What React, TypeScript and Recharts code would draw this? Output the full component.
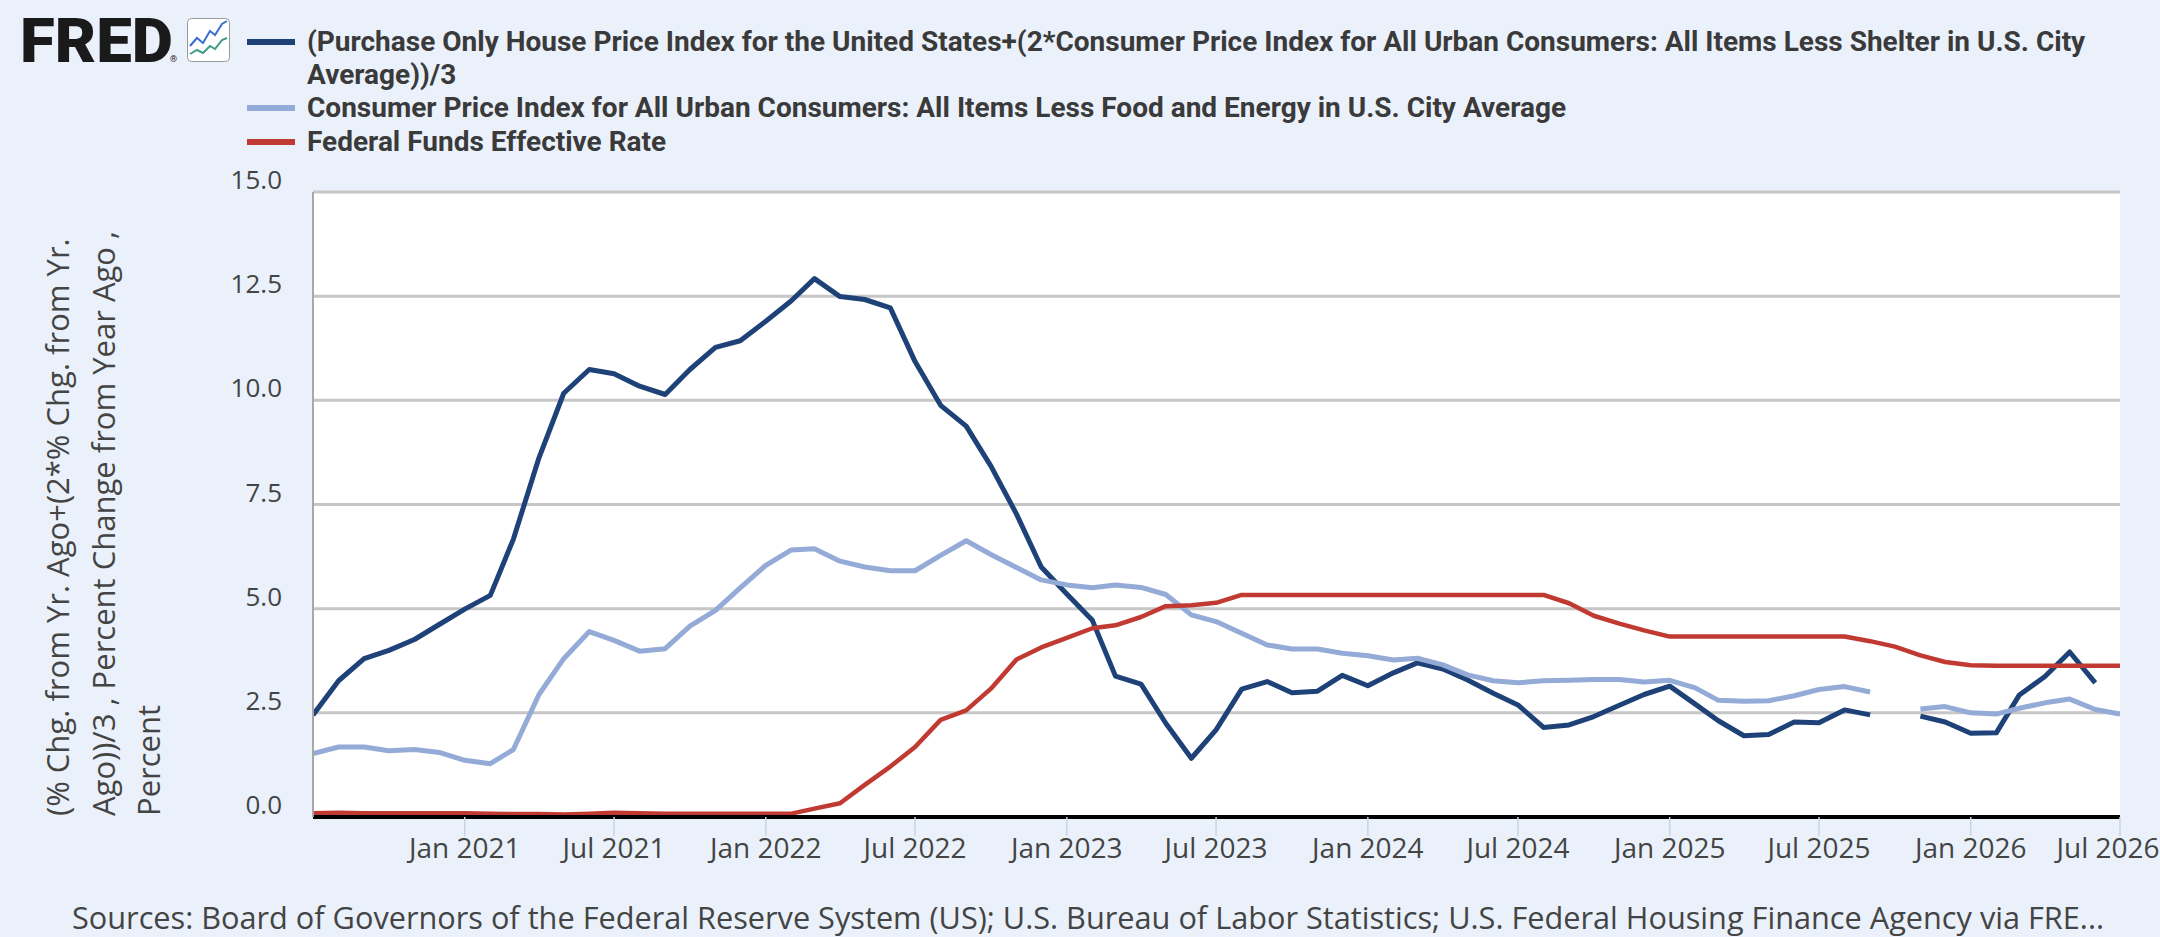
import { LineChart, Line, XAxis, YAxis, CartesianGrid } from 'recharts'

// monthly observations, Jul 2020 .. Jul 2026
const MONTHS = [
  '2020-07', '2020-08', '2020-09', '2020-10', '2020-11', '2020-12',
  '2021-01', '2021-02', '2021-03', '2021-04', '2021-05', '2021-06',
  '2021-07', '2021-08', '2021-09', '2021-10', '2021-11', '2021-12',
  '2022-01', '2022-02', '2022-03', '2022-04', '2022-05', '2022-06',
  '2022-07', '2022-08', '2022-09', '2022-10', '2022-11', '2022-12',
  '2023-01', '2023-02', '2023-03', '2023-04', '2023-05', '2023-06',
  '2023-07', '2023-08', '2023-09', '2023-10', '2023-11', '2023-12',
  '2024-01', '2024-02', '2024-03', '2024-04', '2024-05', '2024-06',
  '2024-07', '2024-08', '2024-09', '2024-10', '2024-11', '2024-12',
  '2025-01', '2025-02', '2025-03', '2025-04', '2025-05', '2025-06',
  '2025-07', '2025-08', '2025-09', '2025-10', '2025-11', '2025-12',
  '2026-01', '2026-02', '2026-03', '2026-04', '2026-05', '2026-06',
  '2026-07',
]

// (HPI yoy + 2 * CPI less shelter yoy) / 3
const HOUSING_MIX = [
  2.45, 3.27, 3.8, 4.0, 4.26, 4.62,
  4.99, 5.32, 6.67, 8.62, 10.17, 10.74,
  10.64, 10.34, 10.14, 10.74, 11.27, 11.43,
  11.9, 12.39, 12.92, 12.49, 12.42, 12.22,
  10.93, 9.88, 9.38, 8.42, 7.27, 6.0,
  5.35, 4.72, 3.38, 3.19, 2.25, 1.41,
  2.09, 3.07, 3.25, 2.98, 3.02, 3.4,
  3.15, 3.46, 3.7, 3.55, 3.29, 2.97,
  2.69, 2.15, 2.21, 2.41, 2.68, 2.94,
  3.14, 2.71, 2.31, 1.95, 1.98, 2.28,
  2.26, 2.57, 2.45, null, 2.42, 2.28,
  2.01, 2.02, 2.93, 3.37, 3.96, 3.22,
  null,
]

// core CPI, percent change from year ago
const CORE_CPI = [
  1.52, 1.68, 1.68, 1.59, 1.62, 1.55,
  1.36, 1.28, 1.62, 2.94, 3.8, 4.45,
  4.24, 3.98, 4.04, 4.58, 4.96, 5.5,
  6.04, 6.41, 6.44, 6.14, 6.0, 5.91,
  5.91, 6.28, 6.63, 6.3, 5.99, 5.69,
  5.57, 5.5, 5.57, 5.51, 5.34, 4.85,
  4.69, 4.41, 4.13, 4.03, 4.03, 3.93,
  3.87, 3.77, 3.81, 3.65, 3.41, 3.27,
  3.22, 3.27, 3.28, 3.3, 3.3, 3.24,
  3.28, 3.1, 2.8, 2.78, 2.79, 2.91,
  3.06, 3.13, 3.0, null, 2.59, 2.65,
  2.5, 2.47, 2.61, 2.74, 2.83, 2.58,
  2.47,
]

// effective fed funds rate, percent
const FED_FUNDS = [
  0.09, 0.1, 0.09, 0.09, 0.09, 0.09,
  0.09, 0.08, 0.07, 0.07, 0.06, 0.08,
  0.1, 0.09, 0.08, 0.08, 0.08, 0.08,
  0.08, 0.08, 0.2, 0.33, 0.77, 1.21,
  1.68, 2.33, 2.56, 3.08, 3.78, 4.07,
  4.3, 4.53, 4.6, 4.8, 5.06, 5.08,
  5.14, 5.33, 5.33, 5.33, 5.33, 5.33,
  5.33, 5.33, 5.33, 5.33, 5.33, 5.33,
  5.33, 5.33, 5.13, 4.83, 4.64, 4.48,
  4.33, 4.33, 4.33, 4.33, 4.33, 4.33,
  4.33, 4.33, 4.22, 4.09, 3.88, 3.72,
  3.64, 3.63, 3.63, 3.63, 3.63, 3.63,
  3.63,
]

const Y_TICKS = [0, 2.5, 5, 7.5, 10, 12.5, 15]
const X_TICKS = [
  '2021-01', '2021-07', '2022-01', '2022-07', '2023-01', '2023-07',
  '2024-01', '2024-07', '2025-01', '2025-07', '2026-01', '2026-07',
]
const MONTH_NAMES = ['Jan', 'Feb', 'Mar', 'Apr', 'May', 'Jun', 'Jul', 'Aug', 'Sep', 'Oct', 'Nov', 'Dec']

const LEGEND_1A =
  '(Purchase Only House Price Index for the United States+(2*Consumer Price Index for All Urban Consumers: All Items Less Shelter in U.S. City'
const LEGEND_1B = 'Average))/3'
const LEGEND_2 = 'Consumer Price Index for All Urban Consumers: All Items Less Food and Energy in U.S. City Average'
const LEGEND_3 = 'Federal Funds Effective Rate'
const Y_TITLE = [
  '(% Chg. from Yr. Ago+(2*% Chg. from Yr.',
  'Ago))/3 , Percent Change from Year Ago ,',
  'Percent',
]
const SOURCES =
  'Sources: Board of Governors of the Federal Reserve System (US); U.S. Bureau of Labor Statistics; U.S. Federal Housing Finance Agency via FRE...'

const DARK = '#1e4278'
const LIGHT = '#93abd6'
const RED = '#c13a31'
const BG = '#eaf1fb'
const TEXT = '#444444'

const toTime = (s: string) => {
  const [y, m] = s.split('-').map(Number)
  return Date.UTC(y, m - 1, 1)
}

const fmtMonth = (t: number) => {
  const d = new Date(t)
  return `${MONTH_NAMES[d.getUTCMonth()]} ${d.getUTCFullYear()}`
}

const data = MONTHS.map((m, i) => ({
  t: toTime(m),
  housing: HOUSING_MIX[i],
  core: CORE_CPI[i],
  ffr: FED_FUNDS[i],
}))

const XTick = ({ x, y, payload }: any) => (
  <text
    x={x}
    y={y + 20}
    textAnchor="middle"
    fill={TEXT}
    fontFamily="'Open Sans', sans-serif"
    fontSize={28}
  >
    {fmtMonth(payload.value)}
  </text>
)

const YTick = ({ x, y, payload }: any) => (
  <text
    x={x}
    y={y - 13}
    textAnchor="end"
    dominantBaseline="central"
    fill={TEXT}
    fontFamily="'Open Sans', sans-serif"
    fontSize={26}
  >
    {Number(payload.value).toFixed(1)}
  </text>
)

const renderYTitle = () => (
  <g>
    {Y_TITLE.map((line, i) => {
      const cx = 57 + i * 45.5
      return (
        <text
          key={i}
          x={cx}
          y={816}
          transform={`rotate(-90, ${cx}, 816)`}
          textAnchor="start"
          dominantBaseline="central"
          fill={TEXT}
          fontFamily="'Open Sans', sans-serif"
          fontSize={31}
        >
          {line}
        </text>
      )
    })}
  </g>
)

const legendText = {
  fontFamily: 'Roboto, sans-serif',
  fontSize: 28,
  fontWeight: 700,
  fill: '#3a3a3a',
}

export default function App() {
  return (
    <div style={{ position: 'absolute', left: 0, top: 0, width: 2160, height: 937, background: BG, overflow: 'hidden' }}>
      <LineChart width={2160} height={937} data={data} margin={{ top: 192, right: 40, bottom: 0, left: 0 }}>
        <CartesianGrid vertical={false} stroke="#c6c6c6" strokeWidth={3} fill="#ffffff" />
        <XAxis
          dataKey="t"
          type="number"
          scale="time"
          domain={[toTime('2020-07'), toTime('2026-07')]}
          ticks={X_TICKS.map(toTime)}
          height={120}
          axisLine={{ stroke: '#000000', strokeWidth: 4 }}
          tickLine={{ stroke: '#c9d3e3', strokeWidth: 1.5 }}
          tickSize={19}
          tick={<XTick />}
          allowDataOverflow
        />
        <YAxis
          type="number"
          domain={[0, 15]}
          ticks={Y_TICKS}
          width={313}
          axisLine={{ stroke: '#a8a8a8', strokeWidth: 2 }}
          tickLine={false}
          tickSize={0}
          tickMargin={31}
          tick={<YTick />}
          label={renderYTitle}
        />
        <Line dataKey="housing" stroke={DARK} strokeWidth={5} dot={false} connectNulls={false} isAnimationActive={false} strokeLinejoin="round" />
        <Line dataKey="core" stroke={LIGHT} strokeWidth={5} dot={false} connectNulls={false} isAnimationActive={false} strokeLinejoin="round" />
        <Line dataKey="ffr" stroke={RED} strokeWidth={4.5} dot={false} connectNulls={false} isAnimationActive={false} strokeLinejoin="round" />
      </LineChart>

      <svg width={2160} height={937} style={{ position: 'absolute', left: 0, top: 0, pointerEvents: 'none' }}>
        {/* FRED logo */}
        <text
          x={20}
          y={62}
          textLength={153}
          lengthAdjust="spacingAndGlyphs"
          fontFamily="Roboto, sans-serif"
          fontWeight={900}
          fontSize={62}
          fill="#1a1a1a"
        >
          FRED
        </text>
        <text x={170} y={62} fontFamily="Roboto, sans-serif" fontSize={9} fill="#1a1a1a">®</text>
        <rect x={187.5} y={18.5} width={42} height={43} rx={4} fill="#ffffff" stroke="#9a9a9a" strokeWidth={1} />
        <polyline points="190,46 197,38 203,43 210,31 215,35 222,24 227,21" fill="none" stroke="#3b6fd0" strokeWidth={2} />
        <polyline points="190,54 197,50 203,53 210,46 215,49 222,40 227,38" fill="none" stroke="#3f9a86" strokeWidth={2} />

        {/* legend */}
        <line x1={247} x2={295} y1={42} y2={42} stroke={DARK} strokeWidth={6} />
        <text x={307} y={41} dominantBaseline="central" {...legendText}>{LEGEND_1A}</text>
        <text x={307} y={74} dominantBaseline="central" {...legendText}>{LEGEND_1B}</text>
        <line x1={247} x2={295} y1={108} y2={108} stroke={LIGHT} strokeWidth={6} />
        <text x={307} y={107} dominantBaseline="central" {...legendText}>{LEGEND_2}</text>
        <line x1={247} x2={295} y1={142} y2={142} stroke={RED} strokeWidth={6} />
        <text x={307} y={141} dominantBaseline="central" {...legendText}>{LEGEND_3}</text>

        {/* sources */}
        <text x={72} y={917} dominantBaseline="central" fontFamily="'Open Sans', sans-serif" fontSize={30.7} fill={TEXT}>
          {SOURCES}
        </text>
      </svg>
    </div>
  )
}
